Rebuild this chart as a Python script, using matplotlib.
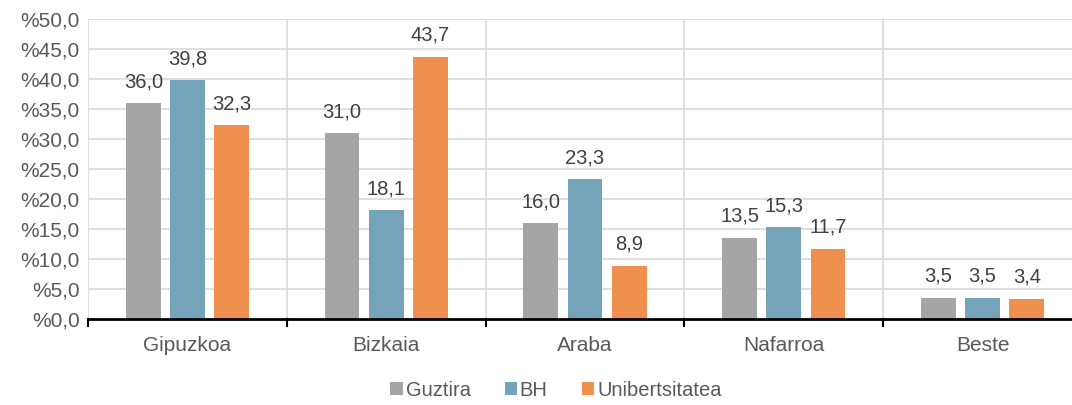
import matplotlib.pyplot as plt
import numpy as np

plt.rcParams['font.family'] = ['Liberation Sans', 'DejaVu Sans']

categories = ['Gipuzkoa', 'Bizkaia', 'Araba', 'Nafarroa', 'Beste']
series_names = ['Guztira', 'BH', 'Unibertsitatea']
guztira = [36.0, 31.0, 16.0, 13.5, 3.5]
bh = [39.8, 18.1, 23.3, 15.3, 3.5]
unib = [32.3, 43.7, 8.9, 11.7, 3.4]
colors = ['#A5A5A5', '#75A3B9', '#F0904F']
yticks = [0, 5, 10, 15, 20, 25, 30, 35, 40, 45, 50]

fig = plt.figure(figsize=(10.72, 4.05), dpi=100)
# axes runs a little past the right edge, as in the original crop
ax = fig.add_axes([88/1072, 1 - 319/405, 994/1072, 300/405])

x = np.arange(len(categories))
w = 0.175
off = 0.222
for i, (vals, c) in enumerate(zip([guztira, bh, unib], colors)):
    pos = x + (i - 1) * off
    bars = ax.bar(pos, vals, width=w, color=c, label=series_names[i], zorder=3)
    for b, v in zip(bars, vals):
        ax.text(b.get_x() + b.get_width() / 2, v + 2.0, f'{v:.1f}'.replace('.', ','),
                ha='center', va='bottom', fontsize=14.5, color='#404040')

ax.set_xlim(-0.5, len(categories) - 0.5)
ax.set_ylim(0, 50)
ax.set_yticks(yticks)
ax.set_yticklabels([f'%{v:.1f}'.replace('.', ',') for v in yticks], fontsize=15, color='#595959')
ax.set_xticks(x)
ax.set_xticklabels(categories, fontsize=15, color='#595959')
ax.tick_params(axis='x', length=0, pad=12)
ax.tick_params(axis='y', length=0, pad=6)

# gridlines
for yv in yticks[1:]:
    ax.axhline(yv, color='#D9D9D9', lw=1.2, zorder=1)
for b in np.arange(-0.5, len(categories), 1.0):
    ax.axvline(b, color='#D9D9D9', lw=1.2, zorder=1)
    ax.plot([b, b], [0, -1.2], color='black', lw=1.5, clip_on=False, zorder=4)

for s in ['top', 'right', 'left']:
    ax.spines[s].set_visible(False)
ax.spines['bottom'].set_linewidth(2)
ax.spines['bottom'].set_zorder(4)

fig.legend(loc='center', bbox_to_anchor=(556/1072, 1 - 390/405), ncol=3, frameon=False,
           fontsize=14.5, handlelength=0.6, handleheight=0.6, handletextpad=0.15,
           columnspacing=1.7, labelcolor='#595959')

fig.savefig('out.png', dpi=100)
